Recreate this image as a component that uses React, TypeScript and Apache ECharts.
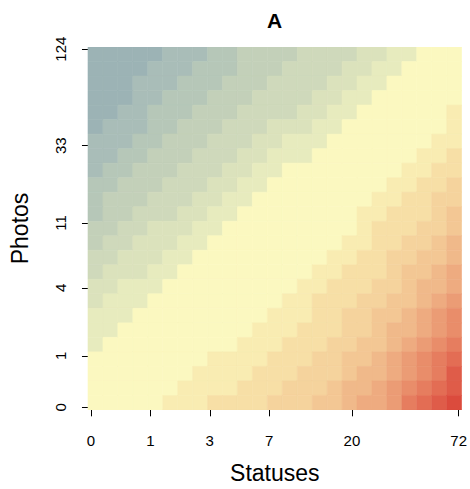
import React, { useEffect, useRef } from "react";
import * as echarts from "echarts";

// Axis ticks (original units); axes are drawn on a log2(value + 1) scale
const xTickLabels = [0, 1, 3, 7, 20, 72];
const yTickLabels = [0, 1, 4, 11, 33, 124];
const xAxisRange = [-0.05, 6.24]; // log2(statuses + 1)
const yAxisRange = [-0.052, 7.008]; // log2(photos + 1)

// Colour of each level (blue-grey -> pale yellow -> red)
const palette = [
  "#9cb3b5", "#a9bdb8", "#b6c7b8", "#c3d0b9", "#cfd9bb", "#dbe2bc", "#e7ebbe",
  "#fbf8c0",
  "#f9ecb2", "#f7dfa6", "#f5d39d", "#f3c794", "#f0b98a", "#eeab80", "#eb9c75",
  "#e98d6a", "#e67d5f", "#e36d54", "#df5c49", "#db4b3d",
];

// Heat levels, top row first, left to right
const heatRows: number[][] = [
  [0,0,0,0,0,1,1,1,2,2,3,3,3,3,4,4,4,4,5,5,6,6,7,7,7],
  [0,0,0,0,1,1,1,2,2,2,3,3,3,4,4,4,4,5,5,6,6,7,7,7,7],
  [0,0,0,1,1,1,2,2,2,3,3,3,4,4,4,4,5,5,6,6,7,7,7,7,7],
  [0,0,0,1,1,2,2,2,3,3,3,4,4,4,4,5,5,6,6,7,7,7,7,7,7],
  [0,0,1,1,2,2,2,3,3,3,4,4,4,4,5,5,6,6,7,7,7,7,7,7,8],
  [0,1,1,1,2,2,3,3,3,4,4,4,5,5,5,6,6,7,7,7,7,7,7,7,8],
  [1,1,1,2,2,3,3,3,4,4,4,5,5,6,6,6,7,7,7,7,7,7,7,8,8],
  [1,1,2,2,3,3,3,4,4,4,5,5,6,6,6,7,7,7,7,7,7,7,8,8,9],
  [1,2,2,3,3,3,4,4,4,5,5,6,6,7,7,7,7,7,7,7,7,8,8,9,9],
  [2,2,3,3,3,4,4,4,5,5,6,6,7,7,7,7,7,7,7,7,8,8,9,9,10],
  [2,3,3,3,4,4,4,5,5,6,6,7,7,7,7,7,7,7,7,8,8,9,9,10,10],
  [2,3,3,4,4,4,5,5,6,6,7,7,7,7,7,7,7,7,8,8,9,9,9,10,11],
  [3,3,4,4,5,5,5,6,6,7,7,7,7,7,7,7,7,7,8,9,9,9,10,10,11],
  [3,4,4,5,5,5,6,6,7,7,7,7,7,7,7,7,7,8,8,9,9,10,10,11,12],
  [4,4,5,5,5,6,6,7,7,7,7,7,7,7,7,7,8,8,9,9,10,10,11,11,12],
  [4,5,5,5,6,6,7,7,7,7,7,7,7,7,7,8,8,9,9,9,10,11,11,12,13],
  [5,5,6,6,6,7,7,7,7,7,7,7,7,7,8,8,9,9,9,10,10,11,12,12,13],
  [5,6,6,6,7,7,7,7,7,7,7,7,7,8,8,9,9,9,10,10,11,11,12,13,14],
  [6,6,6,7,7,7,7,7,7,7,7,7,8,8,8,9,9,10,10,11,11,12,13,14,15],
  [6,6,7,7,7,7,7,7,7,7,7,8,8,8,9,9,9,10,10,11,12,12,13,14,15],
  [6,7,7,7,7,7,7,7,7,7,8,8,8,9,9,9,10,10,11,11,12,13,14,15,16],
  [7,7,7,7,7,7,7,7,8,8,8,8,9,9,9,10,10,11,11,12,13,14,15,16,17],
  [7,7,7,7,7,7,7,8,8,8,8,9,9,9,10,10,10,11,12,12,13,14,15,16,18],
  [7,7,7,7,7,7,8,8,8,8,9,9,9,10,10,10,11,12,12,13,14,15,16,17,18],
  [7,7,7,7,7,8,8,8,9,9,9,9,10,10,10,11,11,12,13,13,14,16,17,18,19],
];

const FONT = "'Liberation Sans', Arial, Helvetica, sans-serif";

export default function App() {
  const ref = useRef<HTMLDivElement>(null);

  useEffect(() => {
    document.body.style.margin = "0";
    const chart = echarts.init(ref.current!, undefined, { renderer: "svg" });

    const nRows = heatRows.length;
    const nCols = heatRows[0].length;
    const dx = (xAxisRange[1] - xAxisRange[0]) / nCols;
    const dy = (yAxisRange[1] - yAxisRange[0]) / nRows;
    const data: number[][] = [];
    heatRows.forEach((row, r) =>
      row.forEach((lvl, c) =>
        data.push([
          xAxisRange[0] + (c + 0.5) * dx,
          yAxisRange[1] - (r + 0.5) * dy,
          lvl,
        ])
      )
    );

    const toLog = (v: number) => Math.log2(v + 1);
    const fromLog = (v: number) => String(Math.round(Math.pow(2, v) - 1));

    chart.setOption({
      animation: false,
      backgroundColor: "#ffffff",
      textStyle: { fontFamily: FONT },
      grid: { left: 87, top: 47, width: 375, height: 365, containLabel: false },
      graphic: [
        {
          type: "text",
          x: 274.5,
          y: 20,
          style: {
            text: "A",
            fill: "#000",
            font: `bold 21px ${FONT}`,
            textAlign: "center",
            textVerticalAlign: "middle",
          },
        },
      ],
      xAxis: {
        type: "value",
        min: xAxisRange[0],
        max: xAxisRange[1],
        name: "Statuses",
        nameLocation: "middle",
        nameGap: 51,
        nameTextStyle: { fontSize: 23, color: "#000", fontFamily: FONT },
        axisLine: { show: false },
        splitLine: { show: false },
        axisTick: {
          show: true,
          length: 9,
          customValues: xTickLabels.map(toLog),
          lineStyle: { color: "#000", width: 1 },
        },
        axisLabel: {
          customValues: xTickLabels.map(toLog),
          formatter: (v: number) => fromLog(v),
          fontSize: 15,
          color: "#000",
          margin: 23,
          fontFamily: FONT,
        },
      },
      yAxis: {
        type: "value",
        min: yAxisRange[0],
        max: yAxisRange[1],
        name: "Photos",
        nameLocation: "middle",
        nameGap: 57,
        nameTextStyle: { fontSize: 23, color: "#000", fontFamily: FONT },
        axisLine: { show: false },
        splitLine: { show: false },
        axisTick: {
          show: true,
          length: 9,
          customValues: yTickLabels.map(toLog),
          lineStyle: { color: "#000", width: 1 },
        },
        axisLabel: {
          customValues: yTickLabels.map(toLog),
          formatter: (v: number) => fromLog(v),
          fontSize: 15,
          color: "#000",
          rotate: 90,
          margin: 20,
          fontFamily: FONT,
        },
      },
      series: [
        {
          type: "custom",
          clip: true,
          encode: { x: 0, y: 1 },
          data,
          renderItem: (params: any, api: any) => {
            const p = api.coord([api.value(0), api.value(1)]);
            const s = api.size([dx, dy]);
            const color = palette[api.value(2)];
            return {
              type: "rect",
              shape: {
                x: p[0] - s[0] / 2,
                y: p[1] - s[1] / 2,
                width: s[0],
                height: s[1],
              },
              style: { fill: color, stroke: color, lineWidth: 0.6 },
            };
          },
        },
      ],
    });

    return () => chart.dispose();
  }, []);

  return <div ref={ref} style={{ width: 470, height: 489 }} />;
}
